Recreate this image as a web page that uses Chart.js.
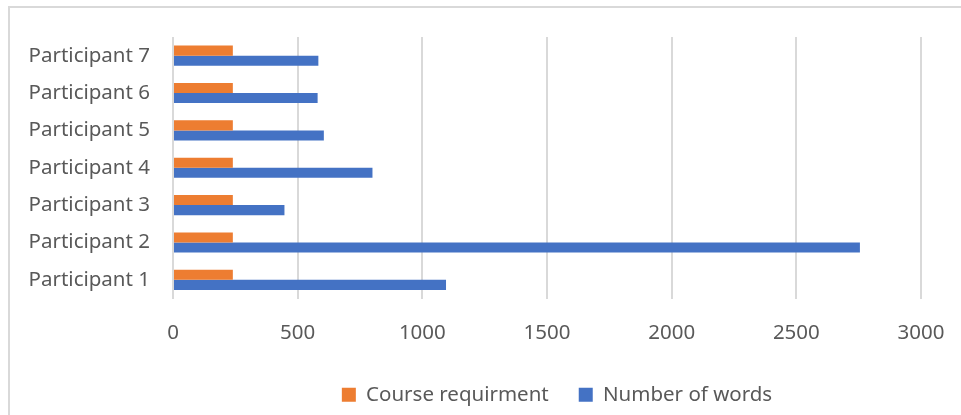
<!DOCTYPE html>
<html>
<head>
<meta charset="utf-8">
<script src="https://cdn.jsdelivr.net/npm/chart.js@4.4.1/dist/chart.umd.min.js"></script>
<style>
  html, body { margin: 0; padding: 0; background: #fff; overflow: hidden; }
  #frame { position: absolute; left: 8px; top: 6px; width: 1000px; height: 500px;
           border-left: 2px solid #d9d9d9; border-top: 2px solid #d9d9d9; }
  #wrap { position: absolute; left: 0; top: 0; width: 961px; height: 415px; }
</style>
</head>
<body>
<div id="frame"></div>
<div id="wrap"><canvas id="chart" width="961" height="415"></canvas></div>
<script>
// Datos
const categories = ['Participant 1', 'Participant 2', 'Participant 3', 'Participant 4',
                    'Participant 5', 'Participant 6', 'Participant 7'];
const courseRequirement = [240, 240, 240, 240, 240, 240, 240];
const numberOfWords = [1095, 2755, 447, 800, 605, 580, 583];
const xTicks = [0, 500, 1000, 1500, 2000, 2500, 3000];

const textColor = '#595959';
const gridColor = '#d9d9d9';
const font = { family: '"Noto Sans", sans-serif', size: 20.5 };

Chart.defaults.font.family = font.family;
Chart.defaults.color = textColor;

// mover la leyenda un poco a la derecha, como en el original
const legendShift = {
    id: 'legendShift',
    afterLayout: function(chart) {
        chart.legend.left += 10;
        chart.legend.right += 10;
    }
};

const config = {
    type: 'bar',
    data: {
        labels: categories,
        datasets: [
            {
                label: 'Course requirment',
                data: courseRequirement,
                backgroundColor: '#ED7D31',
                categoryPercentage: 0.54,
                barPercentage: 1.0
            },
            {
                label: 'Number of words',
                data: numberOfWords,
                backgroundColor: '#4472C4',
                categoryPercentage: 0.54,
                barPercentage: 1.0
            }
        ]
    },
    options: {
        indexAxis: 'y',
        responsive: false,
        animation: false,
        layout: { padding: { left: 0, right: 40, top: 37, bottom: 0 } },
        plugins: {
            legend: {
                position: 'bottom',
                fullSize: false,
                labels: {
                    font: font,
                    color: textColor,
                    boxWidth: 14,
                    boxHeight: 14,
                    padding: 30,
                    useBorderRadius: false
                }
            },
            tooltip: { enabled: false }
        },
        scales: {
            x: {
                min: 0,
                max: 3000,
                afterBuildTicks: function(scale) {
                    scale.ticks = xTicks.map(v => ({ value: v }));
                },
                afterFit: function(scale) { scale.height = 56; },
                grid: {
                    color: gridColor,
                    lineWidth: 2,
                    drawTicks: true,
                    tickLength: 20,
                    tickColor: 'rgba(0,0,0,0)'
                },
                border: { display: false },
                ticks: {
                    font: font,
                    color: textColor,
                    padding: 2,
                    maxRotation: 0,
                    callback: v => String(v)
                }
            },
            y: {
                reverse: true,
                afterFit: function(scale) { scale.width = 173; },
                grid: { display: false },
                border: { display: false },
                ticks: { font: font, color: textColor, padding: 15 }
            }
        }
    },
    plugins: [legendShift]
};

// Renderizar el gráfico
const myChart = new Chart(document.getElementById('chart'), config);
</script>
</body>
</html>
